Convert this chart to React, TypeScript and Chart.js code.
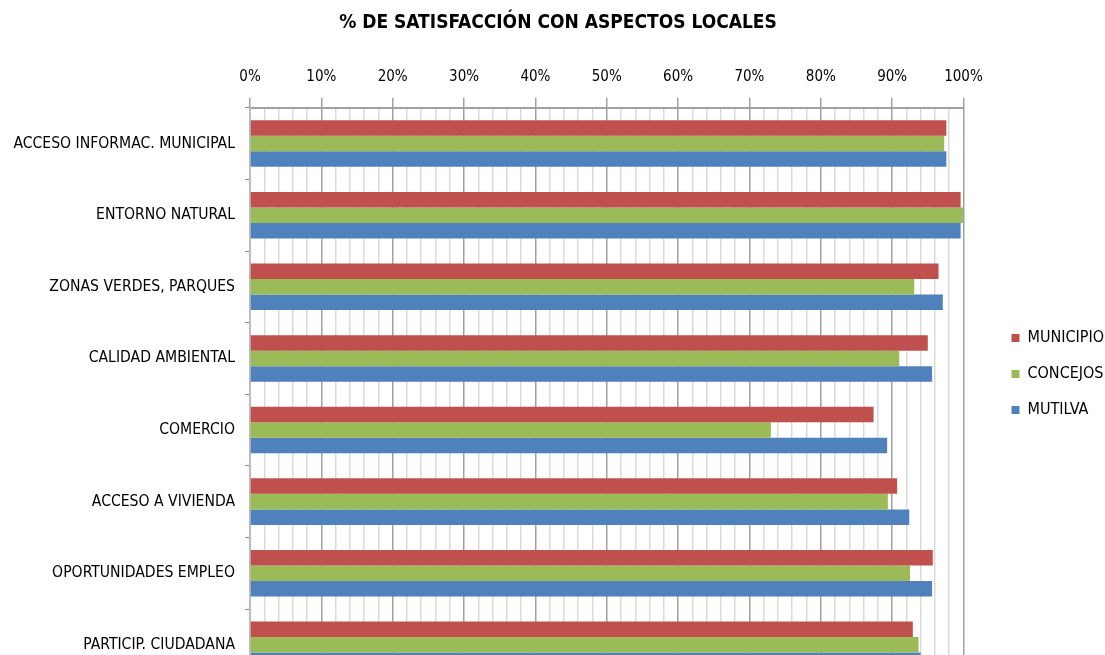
import React, { useEffect, useRef } from "react";
import { Chart, registerables } from "chart.js";

Chart.register(...registerables);

const categories = [
  "ACCESO INFORMAC. MUNICIPAL",
  "ENTORNO NATURAL",
  "ZONAS VERDES, PARQUES",
  "CALIDAD AMBIENTAL",
  "COMERCIO",
  "ACCESO A VIVIENDA",
  "OPORTUNIDADES EMPLEO",
  "PARTICIP. CIUDADANA",
];

const municipio = [97.6, 99.6, 96.5, 95.0, 87.4, 90.7, 95.7, 92.9];
const concejos = [97.3, 100.0, 93.1, 91.0, 73.0, 89.4, 92.5, 93.7];
const mutilva = [97.6, 99.6, 97.1, 95.6, 89.3, 92.4, 95.6, 94.0];

const seriesNames = ["MUNICIPIO", "CONCEJOS", "MUTILVA"];
const seriesColors = ["#C0504D", "#9BBB59", "#4F81BD"];

const FONT = "'Liberation Sans Narrow', 'DejaVu Sans Condensed', 'Open Sans', sans-serif";

export default function App() {
  const ref = useRef<HTMLCanvasElement | null>(null);

  useEffect(() => {
    document.body.style.margin = "0";
    const ctx = ref.current!.getContext("2d")!;
    const chart = new Chart(ctx, {
      type: "bar",
      data: {
        labels: categories,
        datasets: [municipio, concejos, mutilva].map((d, i) => ({
          label: seriesNames[i],
          data: d,
          backgroundColor: seriesColors[i],
          borderWidth: 0,
          categoryPercentage: 0.65,
          barPercentage: 1.0,
        })),
      },
      options: {
        indexAxis: "y",
        animation: false,
        responsive: false,
        maintainAspectRatio: false,
        layout: { padding: { left: 2, right: -9, top: 8, bottom: 0 } },
        plugins: {
          title: {
            display: true,
            text: "% DE SATISFACCIÓN CON ASPECTOS LOCALES",
            color: "#000",
            font: { family: FONT, size: 19, weight: "bold" },
            padding: { top: 4, bottom: 21 },
          },
          legend: {
            position: "right",
            title: {
              display: true,
              text: " ",
              font: { size: 10 },
              padding: { top: 28, bottom: 0 },
            },
            labels: {
              color: "#000",
              boxWidth: 8,
              boxHeight: 8,
              padding: 20,
              font: { family: FONT, size: 16 },
            },
          },
          tooltip: { enabled: false },
        },
        scales: {
          x: {
            position: "top",
            min: 0,
            max: 100,
            ticks: {
              stepSize: 2,
              autoSkip: false,
              maxRotation: 0,
              color: "#000",
              padding: 12,
              font: { family: FONT, size: 15 },
              callback: (v: any) => (Number(v) % 10 === 0 ? v + "%" : ""),
            },
            grid: {
              color: (c: any) =>
                c.tick && Math.round(c.tick.value) % 10 === 0 ? "#a0a0a0" : "#dadada",
              tickColor: (c: any) =>
                c.tick && Math.round(c.tick.value) % 10 === 0 ? "#a0a0a0" : "rgba(0,0,0,0)",
              tickLength: 10,
              lineWidth: 1.5,
            },
            border: { color: "#a0a0a0", width: 2 },
          },
          y: {
            grid: {
              drawOnChartArea: false,
              offset: true,
              tickLength: 5,
              color: "#888",
            },
            ticks: {
              color: "#000",
              padding: 10,
              font: { family: FONT, size: 15.6 },
            },
            border: { color: "#bdbdbd", width: 2 },
            afterFit: (s: any) => {
              s.width = 248;
            },
          },
          gap: {
            type: "category",
            position: "right",
            display: true,
            grid: { display: false, drawTicks: false },
            border: { display: false },
            ticks: { display: false },
            afterFit: (s: any) => {
              s.width = 28;
            },
          },
        },
      },
    } as any);
    return () => chart.destroy();
  }, []);

  return (
    <div style={{ position: "absolute", left: 0, top: 0, width: 1105, height: 700 }}>
      <canvas ref={ref} width={1105} height={700} />
    </div>
  );
}
